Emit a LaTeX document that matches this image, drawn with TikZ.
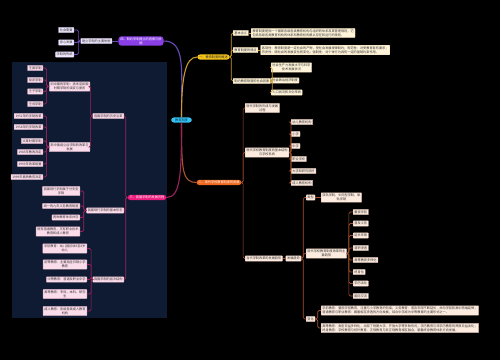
\documentclass[tikz,border=0pt]{standalone}
\usepackage{fontspec}
\setmainfont{Noto Sans CJK SC}
\usetikzlibrary{positioning}

\definecolor{panelc}{HTML}{0E1B33}
\definecolor{rootc}{HTML}{35C3F2}
\definecolor{roott}{HTML}{0B3550}
\definecolor{purc}{HTML}{8A3FE6}
\definecolor{yelc}{HTML}{F7C41B}
\definecolor{orgc}{HTML}{F0681F}
\definecolor{pnkc}{HTML}{EC1C7D}
\definecolor{purl}{HTML}{6B4BB8}
\definecolor{yell}{HTML}{C99A2E}
\definecolor{orgl}{HTML}{A8532E}
\definecolor{pnkl}{HTML}{A0225F}
\definecolor{ybg}{HTML}{FFF4DA}
\definecolor{obg}{HTML}{FDEBDF}
\definecolor{pbg}{HTML}{FBDCEA}
\definecolor{vbg}{HTML}{EFE7FC}

\begin{document}
\begin{tikzpicture}[x=1mm, y=-1mm,
every node/.style={font=\fontsize{9}{11.5}\selectfont, align=center,
  inner xsep=1.3mm, inner ysep=1.2mm, text=black!80},
root/.style={fill=rootc, rounded corners=3mm, inner xsep=4mm, text=roott},
topic/.style={rounded corners=3mm, inner xsep=2mm, text=white},
ybox/.style={fill=ybg, draw=yell!40, line width=0.3mm, rounded corners=0.5mm},
obox/.style={fill=obg, draw=orgl!35, line width=0.3mm, rounded corners=0.5mm},
pbox/.style={fill=pbg, draw=pnkl!35, line width=0.3mm, rounded corners=0.5mm},
vbox/.style={fill=vbg, draw=purl!35, line width=0.3mm, rounded corners=0.5mm},
yline/.style={draw=yell, line width=0.7mm, rounded corners=1.5mm},
oline/.style={draw=orgl, line width=0.7mm, rounded corners=1.5mm},
pline/.style={draw=pnkl, line width=0.7mm, rounded corners=1.5mm},
vline/.style={draw=purl, line width=0.7mm, rounded corners=1.5mm}]

\fill[black] (0,0) rectangle (500,360);
\useasboundingbox (0,0) rectangle (500,360);
\fill[panelc] (12,62) rectangle (167,318);

% centre and main branches
\node[root] (root) at (181.5,120) {教育制度};
\node[topic, fill=purc] (pur) at (141,41) {四、制约学制建立的因素与依\\据};
\node[topic, fill=yelc, text=black!85] (yel) at (213.5,57) {一、教育制度的概述};
\node[topic, fill=orgc] (org) at (219,182.5) {二、现代学校教育制度的发展};
\node[topic, fill=pnkc] (pnk) at (147,197.5) {三、我国学制的发展历程};

\draw[purl, line width=1.1mm] (root.north) .. controls +(0,-48) and +(22,0) .. (pur.east);
\draw[yell, line width=1.1mm] (root.north) .. controls +(0,-40) and +(-12,0) .. (yel.west);
\draw[orgl, line width=1.1mm] (root.south) .. controls +(0,48) and +(-14,0) .. (org.west);
\draw[pnkl, line width=1.1mm] (root.south) .. controls +(0,52) and +(14,0) .. (pnk.east);

% yellow branch
\node[ybox, anchor=west] (y1) at (233,33) {基本含义};
\node[ybox, anchor=west, align=left] (y1t) [right=2.5mm of y1] {教育制度是指一个国家各级各类教育机构与组织的体系及其管理规则，它\\包括各级各类教育机构的体系和教育机构赖以存在和运行的规则。};
\node[ybox, anchor=west] (y2) at (233,50) {教育制度的特点};
\node[ybox, anchor=west, align=left] (y2t) [right=2.5mm of y2] {客观性：教育制度是一定社会的产物，受社会发展规律制约；规范性：对受教育者有要求；\\历史性：随社会的发展变化而变化；强制性：对个体行为具有一定的强制约束作用。};
\node[ybox, anchor=west] (y3) at (233,81) {制约教育制度的社会因素};
\node[ybox, anchor=west] (y31) at (271,67.5) {社会生产力发展水平与科学\\技术发展状况};
\node[ybox, anchor=west] (y32) at (271,80.5) {社会政治经济制度};
\node[ybox, anchor=west] (y33) at (271,92.5) {人口状况和文化传统};

\draw[yline] (yel.east) -- ++(1.5,0) |- (y1.west);
\draw[yline] (yel.east) -- ++(1.5,0) |- (y2.west);
\draw[yline] (yel.east) -- ++(1.5,0) |- (y3.west);
\draw[yline] (y1.east) -- (y1t.west);
\draw[yline] (y2.east) -- (y2t.west);
\draw[yline] (y3.east) -- ++(1.5,0) |- (y31.west);
\draw[yline] (y3.east) -- ++(1.5,0) |- (y32.west);
\draw[yline] (y3.east) -- ++(1.5,0) |- (y33.west);

% orange branch
\node[obox, anchor=west] (o1) at (245,108) {现代学制的形成与发展\\过程};
\node[obox, anchor=west] (o2) at (245,152.5) {现代学校教育制度的基本结构\\与学校系统};
\node[obox, anchor=west] (o21) at (291,122) {幼儿教育机构};
\node[obox, anchor=west] (o22) at (291,134) {小学};
\node[obox, anchor=west] (o23) at (291,146) {中学};
\node[obox, anchor=west] (o24) at (291,159) {职业学校};
\node[obox, anchor=west] (o25) at (291,171) {大学和研究院所};
\node[obox, anchor=west] (o26) at (291,183) {成人教育机构};
\node[obox, anchor=west] (o3) at (245,258.5) {当代学制改革的发展趋势};
\node[obox, anchor=west] (trend) [right=3mm of o3] {发展趋势};
\node[obox, anchor=west] (o31) at (306,197.5) {类型};
\node[obox, anchor=west] (o31a) at (321,197.5) {双轨学制、中间型学制、单\\轨学制};
\node[obox, anchor=west] (o32) at (306,253.5) {现代学校教育制度改革的主\\要趋势};
\node[obox, anchor=west] (o321) at (353,212) {重视学前};
\node[obox, anchor=west] (o322) at (353,223.5) {普及义务};
\node[obox, anchor=west] (o323) at (353,235.5) {延长年限};
\node[obox, anchor=west] (o324) at (353,248) {普职渗透};
\node[obox, anchor=west] (o325) at (353,260) {高等教育多样化};
\node[obox, anchor=west] (o326) at (353,272) {终身化};
\node[obox, anchor=west] (o327) at (353,283.5) {学历淡化};
\node[obox, anchor=west] (o328) at (353,296) {国际交流};
\node[obox, anchor=west] (o33) at (306,319) {变化};
\node[obox, anchor=west, align=left] (o33a) at (321,310.5) {学前教育：重视学前教育，注重与小学教育的衔接；义务教育：普及年限不断延长，并向学前和高中两端延伸；\\普通教育与职业教育：朝着相互渗透的方向发展，综合中学成为中等教育的主要形式之一。};
\node[obox, anchor=west, align=left] (o33b) at (321,328) {高等教育：类型日益多样化，出现了短期大学、开放大学等多种形式；学历教育与非学历教育的界限日益淡化；\\终身教育：学校教育与校外教育、正规教育与非正规教育相互融合，朝着终身教育体系方向发展。};

\draw[oline] (org.east) -- ++(1.5,0) |- (o1.west);
\draw[oline] (org.east) -- ++(1.5,0) |- (o2.west);
\draw[oline] (org.east) -- ++(1.5,0) |- (o3.west);
\draw[oline] (o2.east) -- ++(2,0) |- (o21.west);
\draw[oline] (o2.east) -- ++(2,0) |- (o22.west);
\draw[oline] (o2.east) -- ++(2,0) |- (o23.west);
\draw[oline] (o2.east) -- ++(2,0) |- (o24.west);
\draw[oline] (o2.east) -- ++(2,0) |- (o25.west);
\draw[oline] (o2.east) -- ++(2,0) |- (o26.west);
\draw[oline] (o3.east) -- (trend.west);
\draw[oline] (trend.east) -- ++(2,0) |- (o31.west);
\draw[oline] (trend.east) -- ++(2,0) |- (o32.west);
\draw[oline] (trend.east) -- ++(2,0) |- (o33.west);
\draw[oline] (o31.east) -- (o31a.west);
\draw[oline] (o32.east) -- ++(2,0) |- (o321.west);
\draw[oline] (o32.east) -- ++(2,0) |- (o322.west);
\draw[oline] (o32.east) -- ++(2,0) |- (o323.west);
\draw[oline] (o32.east) -- ++(2,0) |- (o324.west);
\draw[oline] (o32.east) -- ++(2,0) |- (o325.west);
\draw[oline] (o32.east) -- ++(2,0) |- (o326.west);
\draw[oline] (o32.east) -- ++(2,0) |- (o327.west);
\draw[oline] (o32.east) -- ++(2,0) |- (o328.west);
\draw[oline] (o33.east) -- ++(2.5,0) |- (o33a.west);
\draw[oline] (o33.east) -- ++(2.5,0) |- (o33b.west);

% purple branch
\node[vbox, anchor=east] (v1) at (112,41) {建立学制的主要依据};
\node[vbox, anchor=east] (v11) at (74,30) {社会需要};
\node[vbox, anchor=east] (v12) at (74,42.5) {身心发展};
\node[vbox, anchor=east] (v13) at (74,54.5) {学制的传统};

\draw[vline] (pur.west) -- (v1.east);
\draw[vline] (v1.west) -- ++(-2,0) |- (v11.east);
\draw[vline] (v1.west) -- ++(-2,0) |- (v12.east);
\draw[vline] (v1.west) -- ++(-2,0) |- (v13.east);

% pink branch
\node[pbox, anchor=east] (p1) at (124,116) {我国学制的历史沿革};
\node[pbox, anchor=east] (p1a) at (90,86.5) {旧中国的学制：清末至民国\\时期学制的演变与更迭};
\node[pbox, anchor=east] (p1a1) at (43,68) {壬寅学制};
\node[pbox, anchor=east] (p1a2) at (43,80) {癸卯学制};
\node[pbox, anchor=east] (p1a3) at (43,91.5) {壬子学制};
\node[pbox, anchor=east] (p1a4) at (43,104) {壬戌学制};
\node[pbox, anchor=east] (p1b) at (90,147) {新中国成立后学制的改革与\\发展};
\node[pbox, anchor=east] (p1b1) at (43,116) {1951年的学制改革};
\node[pbox, anchor=east] (p1b2) at (43,127) {1958年的学制改革};
\node[pbox, anchor=east] (p1b3) at (43,141) {文革时期学制};
\node[pbox, anchor=east] (p1b4) at (43,152) {1985年教改决定};
\node[pbox, anchor=east] (p1b5) at (43,164) {1993年改革纲要};
\node[pbox, anchor=east] (p1b6) at (43,177) {1999年素质教育决定};
\node[pbox, anchor=east] (p2) at (124,210.5) {我国现行学制的基本形态};
\node[pbox, anchor=east] (p2a) at (80,191) {我国现行学制属于分支型\\学制};
\node[pbox, anchor=east] (p2b) at (80,206) {统一的九年义务教育制度};
\node[pbox, anchor=east] (p2c) at (80,217.5) {两种教育体系并存};
\node[pbox, anchor=east] (p2d) at (80,231.5) {既有普通教育，又有职业技术\\教育和成人教育};
\node[pbox, anchor=east] (p3) at (124,279.5) {我国学制的层次结构};
\node[pbox, anchor=east] (p3a) at (87,248.5) {学前教育：幼儿园招收3至6岁\\幼儿};
\node[pbox, anchor=east] (p3b) at (87,264.5) {初等教育：主要指全日制小学\\教育};
\node[pbox, anchor=east] (p3c) at (87,279.5) {中等教育：普通及职业中学};
\node[pbox, anchor=east] (p3d) at (87,294) {高等教育：专科、本科、研究\\生};
\node[pbox, anchor=east] (p3e) at (87,311) {成人教育：各级各类成人教育\\机构};

\draw[pline] (pnk.west) -- ++(-1.8,0) |- (p1.east);
\draw[pline] (pnk.west) -- ++(-1.8,0) |- (p2.east);
\draw[pline] (pnk.west) -- ++(-1.8,0) |- (p3.east);
\draw[pline] (p1.west) -- ++(-2,0) |- (p1a.east);
\draw[pline] (p1.west) -- ++(-2,0) |- (p1b.east);
\draw[pline] (p1a.west) -- ++(-2.5,0) |- (p1a1.east);
\draw[pline] (p1a.west) -- ++(-2.5,0) |- (p1a2.east);
\draw[pline] (p1a.west) -- ++(-2.5,0) |- (p1a3.east);
\draw[pline] (p1a.west) -- ++(-2.5,0) |- (p1a4.east);
\draw[pline] (p1b.west) -- ++(-2.5,0) |- (p1b1.east);
\draw[pline] (p1b.west) -- ++(-2.5,0) |- (p1b2.east);
\draw[pline] (p1b.west) -- ++(-2.5,0) |- (p1b3.east);
\draw[pline] (p1b.west) -- ++(-2.5,0) |- (p1b4.east);
\draw[pline] (p1b.west) -- ++(-2.5,0) |- (p1b5.east);
\draw[pline] (p1b.west) -- ++(-2.5,0) |- (p1b6.east);
\draw[pline] (p2.west) -- ++(-2.5,0) |- (p2a.east);
\draw[pline] (p2.west) -- ++(-2.5,0) |- (p2b.east);
\draw[pline] (p2.west) -- ++(-2.5,0) |- (p2c.east);
\draw[pline] (p2.west) -- ++(-2.5,0) |- (p2d.east);
\draw[pline] (p3.west) -- ++(-1.5,0) |- (p3a.east);
\draw[pline] (p3.west) -- ++(-1.5,0) |- (p3b.east);
\draw[pline] (p3.west) -- ++(-1.5,0) |- (p3c.east);
\draw[pline] (p3.west) -- ++(-1.5,0) |- (p3d.east);
\draw[pline] (p3.west) -- ++(-1.5,0) |- (p3e.east);

\end{tikzpicture}
\end{document}
